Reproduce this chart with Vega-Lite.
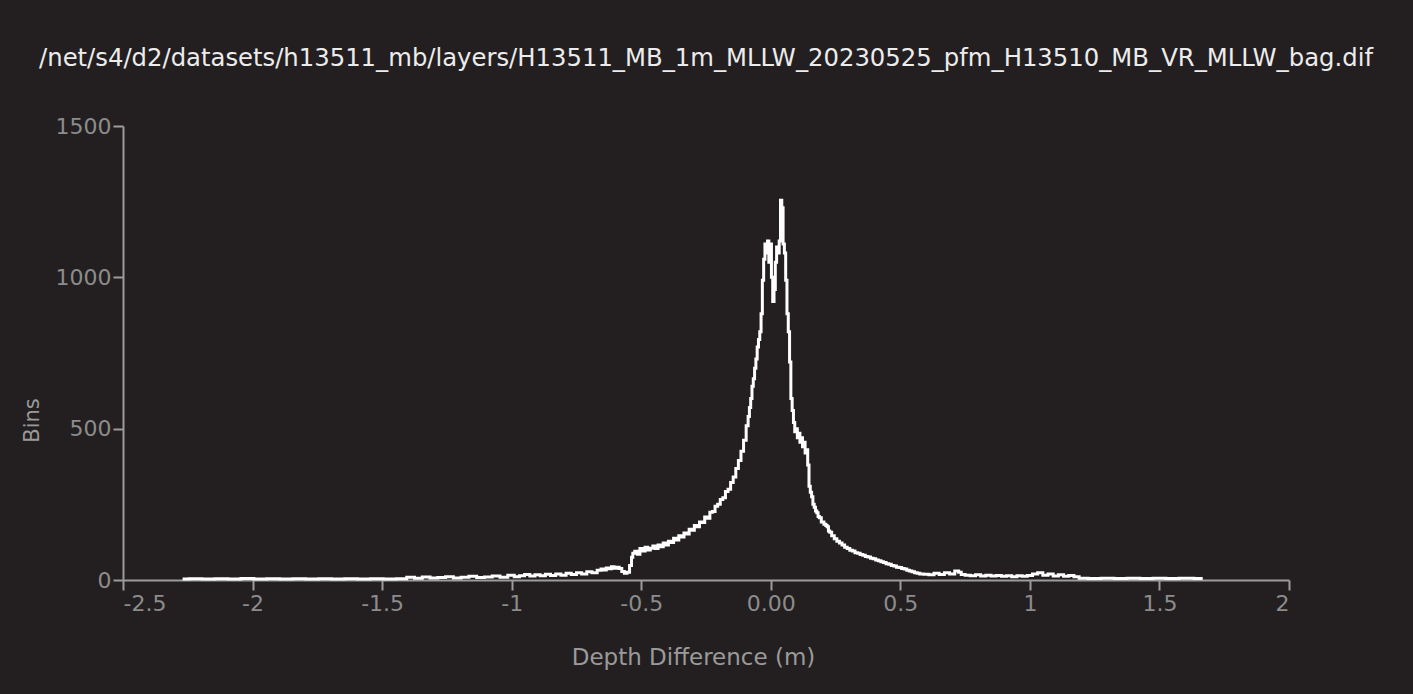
{
  "$schema": "https://vega.github.io/schema/vega-lite/v6.json",
  "width": 1166,
  "height": 454,
  "autosize": {"type": "none"},
  "padding": {"left": 123, "top": 126, "right": 124, "bottom": 114},
  "background": "#231f20",
  "config": {"view": {"stroke": null}, "font": "DejaVu Sans"},
  "title": {
    "text": "/net/s4/d2/datasets/h13511_mb/layers/H13511_MB_1m_MLLW_20230525_pfm_H13510_MB_VR_MLLW_bag.dif",
    "color": "#ececec",
    "fontSize": 24.3,
    "fontWeight": "normal",
    "font": "DejaVu Sans",
    "anchor": "middle",
    "baseline": "alphabetic",
    "offset": 25
  },
  "data": {"values": [
    {"d": -2.27, "n": 3}, {"d": -2.22, "n": 4}, {"d": -2.17, "n": 3}, {"d": -2.12, "n": 4}, {"d": -2.07, "n": 3}, {"d": -2.02, "n": 5},
    {"d": -1.97, "n": 3}, {"d": -1.92, "n": 4}, {"d": -1.87, "n": 3}, {"d": -1.82, "n": 4}, {"d": -1.77, "n": 3}, {"d": -1.72, "n": 4},
    {"d": -1.67, "n": 3}, {"d": -1.62, "n": 4}, {"d": -1.57, "n": 3}, {"d": -1.52, "n": 4}, {"d": -1.47, "n": 3}, {"d": -1.42, "n": 4},
    {"d": -1.39, "n": 9}, {"d": -1.36, "n": 6}, {"d": -1.33, "n": 10}, {"d": -1.30, "n": 7}, {"d": -1.27, "n": 8}, {"d": -1.24, "n": 11},
    {"d": -1.21, "n": 7}, {"d": -1.18, "n": 9}, {"d": -1.15, "n": 12}, {"d": -1.12, "n": 8}, {"d": -1.09, "n": 10}, {"d": -1.06, "n": 13},
    {"d": -1.03, "n": 9}, {"d": -1.00, "n": 16}, {"d": -0.98, "n": 11}, {"d": -0.96, "n": 14}, {"d": -0.94, "n": 18}, {"d": -0.92, "n": 13},
    {"d": -0.90, "n": 17}, {"d": -0.88, "n": 14}, {"d": -0.86, "n": 19}, {"d": -0.84, "n": 15}, {"d": -0.82, "n": 20}, {"d": -0.80, "n": 16},
    {"d": -0.78, "n": 22}, {"d": -0.76, "n": 18}, {"d": -0.74, "n": 24}, {"d": -0.72, "n": 20}, {"d": -0.70, "n": 27}, {"d": -0.68, "n": 24},
    {"d": -0.66, "n": 32}, {"d": -0.65, "n": 36}, {"d": -0.64, "n": 33}, {"d": -0.63, "n": 40}, {"d": -0.62, "n": 37}, {"d": -0.61, "n": 44},
    {"d": -0.60, "n": 39}, {"d": -0.59, "n": 42}, {"d": -0.58, "n": 38}, {"d": -0.57, "n": 28}, {"d": -0.56, "n": 22}, {"d": -0.55, "n": 26},
    {"d": -0.54, "n": 48}, {"d": -0.535, "n": 75}, {"d": -0.53, "n": 88}, {"d": -0.52, "n": 95}, {"d": -0.51, "n": 85}, {"d": -0.50, "n": 104},
    {"d": -0.49, "n": 96}, {"d": -0.48, "n": 108}, {"d": -0.47, "n": 99}, {"d": -0.46, "n": 105}, {"d": -0.45, "n": 112}, {"d": -0.44, "n": 104},
    {"d": -0.43, "n": 116}, {"d": -0.42, "n": 110}, {"d": -0.41, "n": 122}, {"d": -0.40, "n": 116}, {"d": -0.39, "n": 128}, {"d": -0.38, "n": 124},
    {"d": -0.37, "n": 138}, {"d": -0.36, "n": 132}, {"d": -0.35, "n": 146}, {"d": -0.34, "n": 142}, {"d": -0.33, "n": 155}, {"d": -0.32, "n": 152},
    {"d": -0.31, "n": 168}, {"d": -0.30, "n": 164}, {"d": -0.29, "n": 180}, {"d": -0.28, "n": 176}, {"d": -0.27, "n": 192}, {"d": -0.26, "n": 190},
    {"d": -0.25, "n": 208}, {"d": -0.24, "n": 204}, {"d": -0.23, "n": 224}, {"d": -0.22, "n": 226}, {"d": -0.21, "n": 244}, {"d": -0.20, "n": 250},
    {"d": -0.19, "n": 266}, {"d": -0.18, "n": 272}, {"d": -0.17, "n": 292}, {"d": -0.16, "n": 300}, {"d": -0.15, "n": 322}, {"d": -0.14, "n": 340},
    {"d": -0.13, "n": 368}, {"d": -0.12, "n": 395}, {"d": -0.11, "n": 425}, {"d": -0.10, "n": 462}, {"d": -0.09, "n": 510}, {"d": -0.085, "n": 540},
    {"d": -0.08, "n": 570}, {"d": -0.075, "n": 600}, {"d": -0.07, "n": 640}, {"d": -0.065, "n": 665}, {"d": -0.06, "n": 700}, {"d": -0.055, "n": 730},
    {"d": -0.05, "n": 770}, {"d": -0.045, "n": 795}, {"d": -0.04, "n": 820}, {"d": -0.035, "n": 880}, {"d": -0.03, "n": 990}, {"d": -0.025, "n": 1060},
    {"d": -0.02, "n": 1110}, {"d": -0.015, "n": 1080}, {"d": -0.01, "n": 1120}, {"d": -0.005, "n": 1050}, {"d": 0.0, "n": 1110}, {"d": 0.005, "n": 1000},
    {"d": 0.01, "n": 920}, {"d": 0.015, "n": 960}, {"d": 0.02, "n": 1050}, {"d": 0.025, "n": 1100}, {"d": 0.03, "n": 1080}, {"d": 0.035, "n": 1120},
    {"d": 0.04, "n": 1255}, {"d": 0.045, "n": 1230}, {"d": 0.05, "n": 1110}, {"d": 0.055, "n": 1080}, {"d": 0.06, "n": 990}, {"d": 0.065, "n": 880},
    {"d": 0.07, "n": 820}, {"d": 0.075, "n": 720}, {"d": 0.08, "n": 600}, {"d": 0.085, "n": 560}, {"d": 0.09, "n": 520}, {"d": 0.095, "n": 490},
    {"d": 0.10, "n": 500}, {"d": 0.105, "n": 470}, {"d": 0.11, "n": 485}, {"d": 0.115, "n": 455}, {"d": 0.12, "n": 470}, {"d": 0.125, "n": 440},
    {"d": 0.13, "n": 455}, {"d": 0.135, "n": 420}, {"d": 0.14, "n": 430}, {"d": 0.145, "n": 380}, {"d": 0.15, "n": 310}, {"d": 0.155, "n": 290},
    {"d": 0.16, "n": 275}, {"d": 0.165, "n": 250}, {"d": 0.17, "n": 240}, {"d": 0.175, "n": 228}, {"d": 0.18, "n": 222}, {"d": 0.185, "n": 210},
    {"d": 0.19, "n": 206}, {"d": 0.20, "n": 192}, {"d": 0.21, "n": 184}, {"d": 0.215, "n": 180}, {"d": 0.22, "n": 176}, {"d": 0.225, "n": 162},
    {"d": 0.23, "n": 158}, {"d": 0.24, "n": 146}, {"d": 0.25, "n": 136}, {"d": 0.26, "n": 128}, {"d": 0.27, "n": 122}, {"d": 0.28, "n": 116},
    {"d": 0.29, "n": 108}, {"d": 0.30, "n": 104}, {"d": 0.31, "n": 98}, {"d": 0.32, "n": 96}, {"d": 0.33, "n": 90}, {"d": 0.34, "n": 88},
    {"d": 0.35, "n": 84}, {"d": 0.36, "n": 82}, {"d": 0.37, "n": 78}, {"d": 0.38, "n": 76}, {"d": 0.39, "n": 72}, {"d": 0.40, "n": 70},
    {"d": 0.41, "n": 66}, {"d": 0.42, "n": 64}, {"d": 0.43, "n": 60}, {"d": 0.44, "n": 58}, {"d": 0.45, "n": 54}, {"d": 0.46, "n": 52},
    {"d": 0.47, "n": 48}, {"d": 0.48, "n": 46}, {"d": 0.49, "n": 42}, {"d": 0.50, "n": 41}, {"d": 0.51, "n": 38}, {"d": 0.52, "n": 36},
    {"d": 0.53, "n": 32}, {"d": 0.54, "n": 30}, {"d": 0.55, "n": 27}, {"d": 0.56, "n": 24}, {"d": 0.57, "n": 22}, {"d": 0.58, "n": 20},
    {"d": 0.60, "n": 19}, {"d": 0.62, "n": 17}, {"d": 0.64, "n": 22}, {"d": 0.66, "n": 18}, {"d": 0.68, "n": 24}, {"d": 0.70, "n": 20},
    {"d": 0.72, "n": 30}, {"d": 0.73, "n": 26}, {"d": 0.74, "n": 18}, {"d": 0.76, "n": 16}, {"d": 0.78, "n": 14}, {"d": 0.80, "n": 17},
    {"d": 0.82, "n": 13}, {"d": 0.84, "n": 16}, {"d": 0.86, "n": 13}, {"d": 0.88, "n": 15}, {"d": 0.90, "n": 12}, {"d": 0.92, "n": 14},
    {"d": 0.94, "n": 11}, {"d": 0.96, "n": 14}, {"d": 0.98, "n": 12}, {"d": 1.00, "n": 15}, {"d": 1.02, "n": 20}, {"d": 1.04, "n": 24},
    {"d": 1.06, "n": 16}, {"d": 1.08, "n": 20}, {"d": 1.10, "n": 13}, {"d": 1.12, "n": 17}, {"d": 1.14, "n": 12}, {"d": 1.16, "n": 15},
    {"d": 1.18, "n": 11}, {"d": 1.20, "n": 6}, {"d": 1.25, "n": 5}, {"d": 1.30, "n": 6}, {"d": 1.35, "n": 5}, {"d": 1.40, "n": 6},
    {"d": 1.45, "n": 5}, {"d": 1.50, "n": 6}, {"d": 1.55, "n": 5}, {"d": 1.60, "n": 6}, {"d": 1.667, "n": 5}
  ]},
  "mark": {"type": "line", "color": "#ffffff", "strokeWidth": 3, "interpolate": "step"},
  "encoding": {
    "x": {
      "field": "d", "type": "quantitative",
      "scale": {"domain": [-2.5, 2], "nice": false, "zero": false},
      "axis": {
        "title": "Depth Difference (m)",
        "values": [-2.5, -2, -1.5, -1, -0.5, 0, 0.5, 1, 1.5, 2],
        "labelExpr": "datum.value == 0 ? '0.00' : toString(datum.value)",
        "grid": false,
        "domainColor": "#9c9c9c", "domainWidth": 2,
        "tickColor": "#9c9c9c", "tickWidth": 2, "tickSize": 10,
        "labelColor": "#8c8c8c", "labelFontSize": 22, "labelFont": "DejaVu Sans", "labelPadding": 3,
        "titleColor": "#9a9a9a", "titleFontSize": 23, "titleFont": "DejaVu Sans", "titleFontWeight": "normal",
        "titleX": 570, "titleY": 77, "titleBaseline": "middle"
      }
    },
    "y": {
      "field": "n", "type": "quantitative",
      "scale": {"domain": [0, 1500], "nice": false},
      "axis": {
        "title": "Bins",
        "values": [0, 500, 1000, 1500],
        "format": "d",
        "grid": false,
        "domainColor": "#9c9c9c", "domainWidth": 2,
        "tickColor": "#9c9c9c", "tickWidth": 2, "tickSize": 10,
        "labelColor": "#8c8c8c", "labelFontSize": 22, "labelFont": "DejaVu Sans", "labelPadding": 2,
        "titleColor": "#9a9a9a", "titleFontSize": 21, "titleFont": "DejaVu Sans", "titleFontWeight": "normal",
        "titleX": -91, "titleY": 294, "titleBaseline": "middle", "titleAngle": -90
      }
    }
  }
}
